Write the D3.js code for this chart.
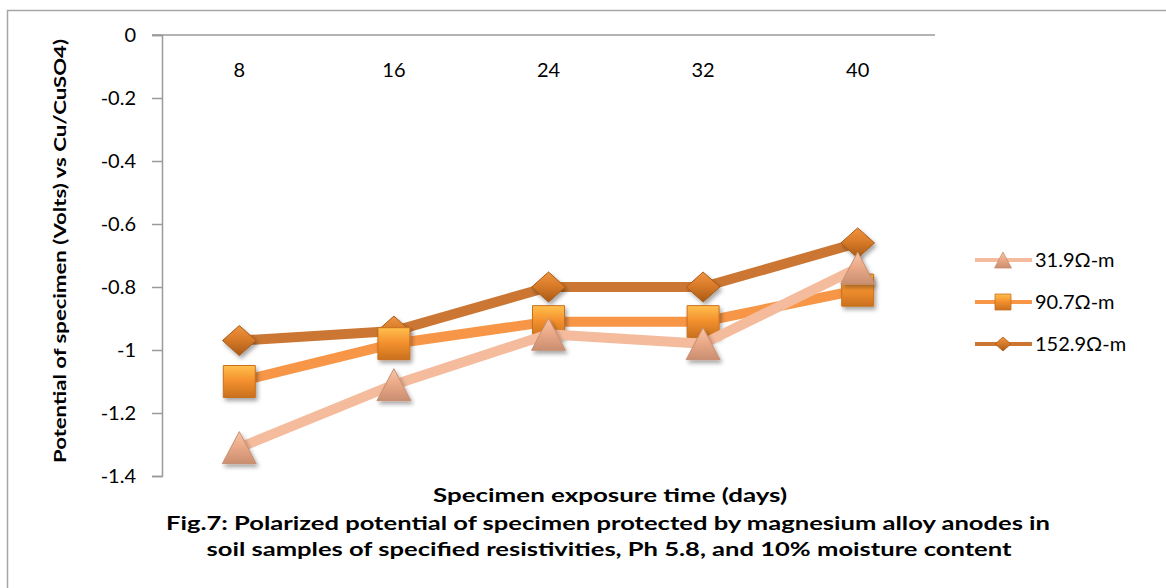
<!DOCTYPE html>
<html><head><meta charset="utf-8">
<script src="https://cdn.jsdelivr.net/npm/d3@7"></script>
<style>
html,body{margin:0;padding:0;background:#fff;}
svg{display:block;font-family:Lato,"Open Sans",sans-serif;}
</style></head>
<body>
<svg id="chart" width="1166" height="588"></svg>
<script>
const categories = ["8", "16", "24", "32", "40"];
const seriesNames = ["31.9\u03A9-m", "90.7\u03A9-m", "152.9\u03A9-m"];
const values319 = [-1.31, -1.11, -0.95, -0.98, -0.74];
const values907 = [-1.10, -0.98, -0.91, -0.91, -0.81];
const values1529 = [-0.97, -0.94, -0.80, -0.80, -0.66];
const yTicks = [0, -0.2, -0.4, -0.6, -0.8, -1, -1.2, -1.4];
const yTickLabels = ["0", "-0.2", "-0.4", "-0.6", "-0.8", "-1", "-1.2", "-1.4"];
const xTitle = "Specimen exposure time (days)";
const yTitle = "Potential of specimen (Volts) vs Cu/CuSO4)";
const caption = ["Fig.7: Polarized potential of specimen protected by magnesium alloy anodes in",
                 "soil samples of specified resistivities, Ph 5.8, and 10% moisture content"];

const svg = d3.select("#chart");
const defs = svg.append("defs");

const styles = [
  {shape:"triangle", line:"#F5BB9D", fill:"#EBAA88", light:"#F7C6AA", dark:"#C98E70"},
  {shape:"square",   line:"#F79646", fill:"#F5922F", light:"#FFC04D", dark:"#C9701E"},
  {shape:"diamond",  line:"#CB7733", fill:"#D97B29", light:"#F09440", dark:"#A85A18"}
];
const data = [values319, values907, values1529];

styles.forEach((s,i)=>{
  const g = defs.append("linearGradient").attr("id","grad"+i).attr("x1",0).attr("y1",0).attr("x2",0).attr("y2",1);
  g.append("stop").attr("offset","0%").attr("stop-color",s.light);
  g.append("stop").attr("offset","45%").attr("stop-color",s.fill);
  g.append("stop").attr("offset","100%").attr("stop-color",s.dark);
});
const f = defs.append("filter").attr("id","shadow").attr("x","-50%").attr("y","-50%").attr("width","200%").attr("height","200%");
f.append("feDropShadow").attr("dx",2).attr("dy",3).attr("stdDeviation",2).attr("flood-color","#000").attr("flood-opacity",0.35);

svg.append("path").attr("d","M7.5,1000 L7.5,10.5 L1200,10.5").attr("fill","none").attr("stroke","#A6A6A6").attr("stroke-width",1.5);

const x = d3.scaleBand().domain(categories).range([162, 935]);
const y = d3.scaleLinear().domain([-1.4, 0]).range([476, 35]);

const yAxis = d3.axisLeft(y).tickValues(yTicks).tickSize(10).tickPadding(16)
  .tickFormat((d,i)=>yTickLabels[i]);
const ya = svg.append("g").attr("transform","translate(162,0)").call(yAxis);
ya.select(".domain").attr("stroke","#9A9A9A").attr("stroke-width",1.5);
ya.selectAll(".tick line").attr("stroke","#9A9A9A").attr("stroke-width",1.5);
ya.selectAll(".tick text").attr("font-size",20).attr("fill","#000").attr("font-family","Lato, sans-serif");

const xAxis = d3.axisBottom(x).tickSize(0).tickPadding(28);
const xa = svg.append("g").attr("transform","translate(0,"+y(0)+")").call(xAxis);
xa.select(".domain").attr("stroke","#9A9A9A").attr("stroke-width",1.5).attr("d","M152,0H935");
xa.selectAll(".tick text").attr("font-size",20).attr("fill","#000").attr("font-family","Lato, sans-serif");

function markerPath(shape, s){
  if(shape==="triangle") return `M0,${-s} L${s*1.06},${s} L${-s*1.06},${s} Z`;
  if(shape==="square") return `M${-s},${-s} H${s} V${s} H${-s} Z`;
  return `M0,${-s} L${s*1.12},0 L0,${s} L${-s*1.12},0 Z`;
}
const markerSize = [16, 16, 15];

const line = d3.line().x((d,i)=>x(categories[i])+x.bandwidth()/2).y(d=>y(d));

for(let si = data.length-1; si>=0; si--){
  const s = styles[si];
  const g = svg.append("g");
  g.append("path").datum(data[si]).attr("d",line).attr("fill","none")
    .attr("stroke",s.line).attr("stroke-width",10).attr("stroke-linejoin","round");
  g.selectAll("path.m").data(data[si]).enter().append("path").attr("class","m")
    .attr("transform",(d,i)=>`translate(${x(categories[i])+x.bandwidth()/2},${y(d)})`)
    .attr("d",markerPath(s.shape, markerSize[si]))
    .attr("fill",`url(#grad${si})`).attr("stroke",s.dark).attr("stroke-width",1)
    .attr("filter","url(#shadow)");
}

const legendY = [260, 302, 344];
seriesNames.forEach((name,i)=>{
  const s = styles[i];
  const g = svg.append("g").attr("transform",`translate(0,${legendY[i]})`);
  g.append("line").attr("x1",975).attr("x2",1032).attr("y1",0).attr("y2",0)
    .attr("stroke",s.line).attr("stroke-width",4);
  g.append("path").attr("transform","translate(1003,0)").attr("d",markerPath(s.shape, i===2?7:8))
    .attr("fill",`url(#grad${i})`).attr("stroke",s.dark).attr("stroke-width",0.8);
  g.append("text").attr("x",1035).attr("y",0).attr("dy","0.35em").attr("font-size",20)
    .attr("fill","#000").text(name);
});

svg.append("text").attr("transform","translate(60,251) rotate(-90)").attr("text-anchor","middle")
  .attr("dy","0.35em").attr("font-size",17).attr("font-weight","bold").attr("fill","#000")
  .attr("textLength",424).attr("lengthAdjust","spacingAndGlyphs").text(yTitle);
svg.append("text").attr("x",610).attr("y",495).attr("text-anchor","middle").attr("dy","0.35em")
  .attr("font-size",19).attr("font-weight","bold").attr("fill","#000")
  .attr("textLength",354).attr("lengthAdjust","spacingAndGlyphs").text(xTitle);
const capX = [608, 609], capY = [523, 549], capW = [884, 805];
caption.forEach((t,i)=>{
  svg.append("text").attr("x",capX[i]).attr("y",capY[i]).attr("text-anchor","middle").attr("dy","0.35em")
    .attr("font-size",19).attr("font-weight","bold").attr("fill","#000")
    .attr("textLength",capW[i]).attr("lengthAdjust","spacingAndGlyphs").text(t);
});
</script>
</body></html>
